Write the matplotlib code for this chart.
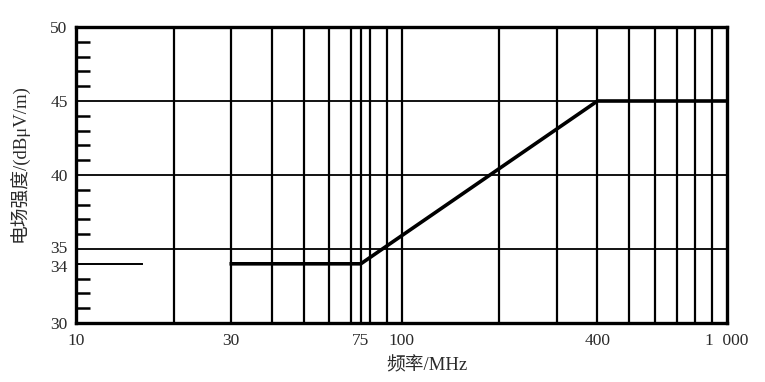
import matplotlib
matplotlib.use("Agg")
import matplotlib.pyplot as plt
import matplotlib.transforms as mtransforms

plt.rcParams['font.family'] = ['Liberation Serif', 'Noto Sans CJK SC']

# Data
limit_freq = [30, 75, 400, 1000]
limit_level = [34, 34, 45, 45]
stub_freq = [10, 15.9]
stub_level = [34, 34]

x_grid = [20, 30, 40, 50, 60, 70, 75, 80, 90, 100, 200, 300, 400, 500, 600, 700, 800, 900]
y_grid = [35, 40, 45]
x_ticks = [10, 30, 75, 100, 400, 1000]
x_ticklabels = ["10", "30", "75", "100", "400", "1  000"]
y_ticks = [30, 34, 35, 40, 45, 50]
y_minor = list(range(31, 50))

fig = plt.figure(figsize=(7.65, 3.82), dpi=100)
ax = fig.add_axes([76/765, 59/382, 651/765, 296/382])
ax.set_xscale('log')
ax.set_xlim(10, 1000)
ax.set_ylim(30, 50)

for xv in x_grid:
    ax.axvline(xv, color='black', lw=1.6, zorder=1)
for yv in y_grid:
    ax.axhline(yv, color='black', lw=1.3, zorder=1)

ax.plot(stub_freq, stub_level, color='black', lw=1.4, zorder=3)
ax.plot(limit_freq, limit_level, color='black', lw=2.6, zorder=3, solid_joinstyle='miter')

for s in ax.spines.values():
    s.set_linewidth(2.4)

txt = '#2a2a2a'
ax.set_xticks(x_ticks)
ax.set_xticklabels(x_ticklabels)
ax.xaxis.set_minor_locator(matplotlib.ticker.NullLocator())
ax.tick_params(axis='x', which='both', length=0, labelsize=12.5, pad=7, labelcolor=txt)
ax.set_yticks(y_ticks)
ax.set_yticks(y_minor, minor=True)
ax.tick_params(axis='y', which='major', length=0, labelsize=12.5, pad=6, labelcolor=txt)
ax.tick_params(axis='y', which='minor', direction='in', length=10, width=1.8, color='black')

# nudge the tightly packed 34 / 35 labels apart slightly
for lab, val in zip(ax.get_yticklabels(), y_ticks):
    if val == 34:
        lab.set_transform(lab.get_transform() + mtransforms.ScaledTranslation(0, -2/100, fig.dpi_scale_trans))
    elif val == 35:
        lab.set_transform(lab.get_transform() + mtransforms.ScaledTranslation(0, 2/100, fig.dpi_scale_trans))

fig.text(20/765, 1 - 163/382, "电场强度/(dBμV/m)", rotation=90, ha='center', va='center', fontsize=13.5, color=txt)
fig.text(427/765, 1 - 366/382, "频率/MHz", ha='center', va='center', fontsize=13.5, color=txt)

fig.savefig("out.png", dpi=100)
